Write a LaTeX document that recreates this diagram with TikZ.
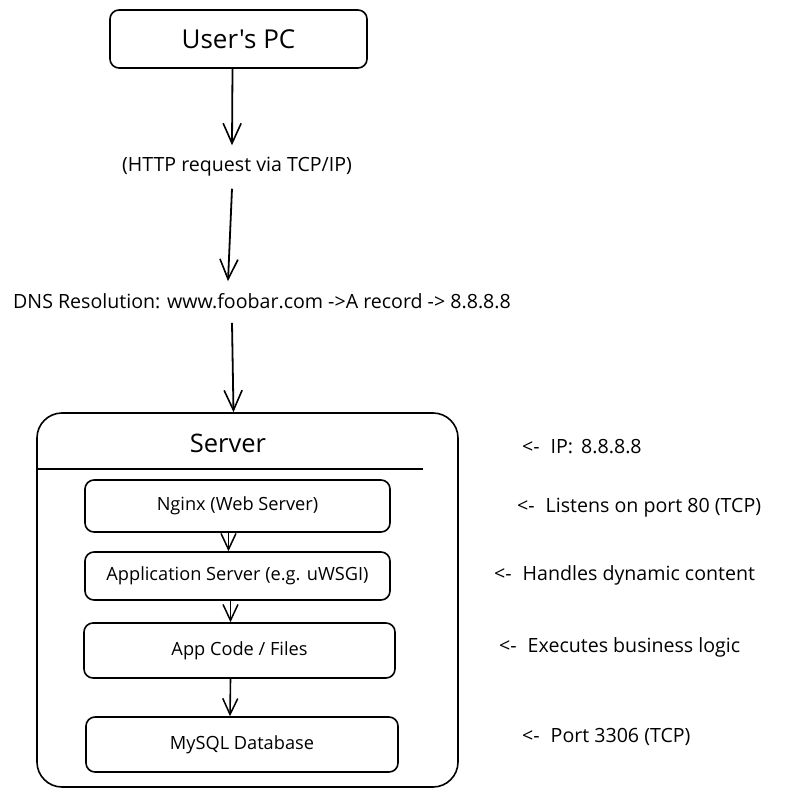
\documentclass[tikz,border=0pt]{standalone}
\usepackage{fontspec}
\setmainfont{Open Sans}[Ligatures=TeXOff]
\usetikzlibrary{arrows.meta}
\begin{document}
\begin{tikzpicture}[x=1pt,y=-1pt,
 box/.style={draw, line width=1.6pt, rounded corners=9pt, inner sep=0pt, font=\fontsize{18.2}{21}\selectfont},
 lbl/.style={inner sep=0pt, font=\fontsize{19.6}{23}\selectfont},
 note/.style={inner sep=0pt, anchor=west, font=\fontsize{19.6}{23}\selectfont},
 arr/.style={line width=1.8pt, -{Straight Barb[length=20pt,width=18pt,line width=1.6pt]}},
 sarr/.style={line width=1.6pt, -{Straight Barb[length=16pt,width=15pt,line width=1.5pt]}}]
\useasboundingbox (0,0) rectangle (786,799);
\fill[white] (0,0) rectangle (786,799);

\node[box, minimum width=257pt, minimum height=58pt, font=\fontsize{26}{30}\selectfont] (pc) at (238.5,39) {User's PC};
\node[lbl] (http) at (237,167) {(HTTP request via TCP/IP)};
\node[lbl] (dns) at (262,301) {DNS Resolution: www.foobar.com ->A record -> 8.8.8.8};

\node[box, minimum width=421pt, minimum height=374pt, rounded corners=25pt] (server) at (247.5,600) {};
\node[inner sep=0pt, font=\fontsize{25.5}{29}\selectfont] (title) at (228,443) {Server};
\coordinate (divR) at (423,469);
\draw[line width=1.6pt] (server.west |- divR) -- (divR);

\node[box, minimum width=305pt, minimum height=52pt] (nginx) at (237.5,506) {Nginx (Web Server)};
\node[box, minimum width=305pt, minimum height=48pt] (appsrv) at (237.5,576) {Application Server (e.g. uWSGI)};
\node[box, minimum width=311pt, minimum height=55pt] (code) at (239.5,650.5) {App Code / Files};
\node[box, minimum width=312pt, minimum height=55pt] (db) at (242,744.5) {MySQL Database};

\draw[arr] ([xshift=-6pt]pc.south) -- ([xshift=-5pt,yshift=12pt]http.north);
\draw[arr] ([xshift=-5pt,yshift=-12pt]http.south) -- ([xshift=-34pt,yshift=12pt]dns.north);
\draw[arr] ([xshift=-30pt,yshift=-14pt]dns.south) -- ([xshift=-14pt]server.north);

\draw[sarr] ([xshift=-9pt]nginx.south) -- ([xshift=-9pt]appsrv.north);
\draw[sarr] ([xshift=-7pt]appsrv.south) -- ([xshift=-9pt]code.north);
\draw[sarr] ([xshift=-9pt]code.south) -- ([xshift=-12pt]db.north);

\node[note] (n1) at (522,447) {<-\hspace{11pt}IP:\hspace{8pt}8.8.8.8};
\node[note] (n2) at (517,508) {<-\hspace{11pt}Listens on port 80 (TCP)};
\node[note] (n3) at (494,575) {<-\hspace{11pt}Handles dynamic content};
\node[note] (n4) at (499,647) {<-\hspace{11pt}Executes business logic};
\node[note] (n5) at (522,737) {<-\hspace{11pt}Port 3306 (TCP)};
\end{tikzpicture}
\end{document}
